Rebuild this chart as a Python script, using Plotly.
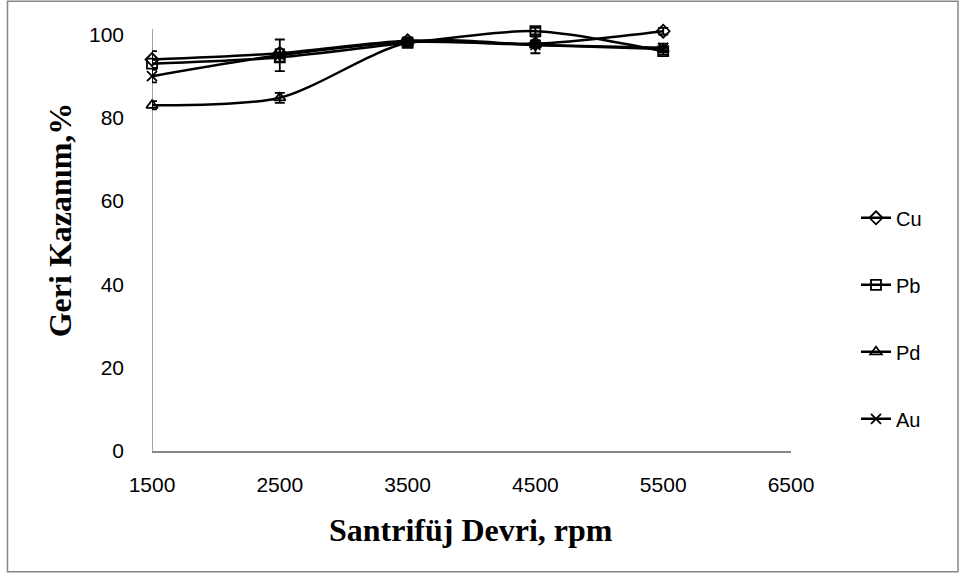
import plotly.graph_objects as go

rpm = [1500, 2500, 3500, 4500, 5500]
cu = [94.0, 95.5, 98.5, 97.8, 100.8]
pb = [93.0, 94.5, 98.0, 100.8, 96.0]
pd_ = [83.0, 84.8, 98.0, 97.5, 96.5]
au = [90.0, 95.0, 98.2, 97.5, 96.8]
cu_err = [2.0, 1.0, 0.8, 0.8, 0.8]
pb_err = [1.0, 1.0, 0.8, 0.8, 0.8]
pd_err = [1.0, 1.2, 0.8, 0.5, 0.5]
au_err = [1.5, 3.8, 0.8, 2.0, 1.0]
x_ticks = [1500, 2500, 3500, 4500, 5500, 6500]
x_labels = ["1500", "2500", "3500", "4500", "5500", "6500"]
y_ticks = [0, 20, 40, 60, 80, 100]

series = [("Cu", cu, cu_err, "diamond-open"),
          ("Pb", pb, pb_err, "square-open"),
          ("Pd", pd_, pd_err, "triangle-up-open"),
          ("Au", au, au_err, "x-thin-open")]

fig = go.Figure()
for name, vals, err, sym in series:
    fig.add_trace(go.Scatter(
        x=rpm, y=vals, name=name, legendgroup=name,
        mode="lines+markers", cliponaxis=False,
        line=dict(color="black", width=2.5, shape="spline", smoothing=0.8),
        marker=dict(symbol=sym, size=10, color="black",
                    line=dict(color="black", width=1.8)),
        error_y=dict(type="data", array=err, visible=True,
                     color="black", thickness=1.8, width=5),
    ))

W, H = 966, 581
L, R, T, B = 152, 175, 21.5, 130
pw, ph = W - L - R, H - T - B
bottom = H - B  # pixel of y=0


def px_x(p):
    return (p - L) / pw


def px_y(p):
    return (bottom - p) / ph


fig.update_layout(
    width=W, height=H,
    paper_bgcolor="white", plot_bgcolor="white",
    margin=dict(l=L, r=R, t=T, b=B, autoexpand=False),
    font=dict(family="Liberation Sans", size=21, color="black"),
    showlegend=True,
    legend=dict(x=px_x(856), y=px_y(198), xanchor="left", yanchor="top",
                tracegroupgap=38, font=dict(size=20),
                bgcolor="rgba(0,0,0,0)", itemwidth=30),
    xaxis=dict(range=[1500, 6500], tickvals=x_ticks, ticktext=x_labels,
               showgrid=False, zeroline=False, showline=True, automargin=False,
               linecolor="#868686", linewidth=1.5, ticks="", ticklen=0,
               ticklabelstandoff=14),
    yaxis=dict(range=[0, 103], tickvals=y_ticks,
               showgrid=False, zeroline=False, showline=False, automargin=False,
               ticks="", ticklen=0, ticklabelstandoff=27),
    shapes=[
        dict(type="line", xref="x", yref="y", x0=1500, x1=1500, y0=0, y1=101.4,
             line=dict(color="#868686", width=1.5), layer="below"),
        dict(type="rect", xref="paper", yref="paper",
             x0=px_x(7.5), x1=px_x(958), y0=px_y(572), y1=px_y(0.8),
             line=dict(color="#868686", width=1.5)),
    ],
    annotations=[
        dict(text="<b>Santrifüj Devri, rpm</b>", xref="paper", yref="paper",
             x=px_x(471), y=px_y(530), xanchor="center", yanchor="middle",
             showarrow=False, font=dict(family="Liberation Serif", size=32)),
        dict(text="<b>Geri Kazanım,%</b>", xref="paper", yref="paper",
             x=px_x(60), y=px_y(220), xanchor="center", yanchor="middle",
             textangle=-90, showarrow=False,
             font=dict(family="Liberation Serif", size=32)),
    ],
)

fig.write_html("out.html", config={"displayModeBar": False},
               post_script="document.body.style.margin='0';")
